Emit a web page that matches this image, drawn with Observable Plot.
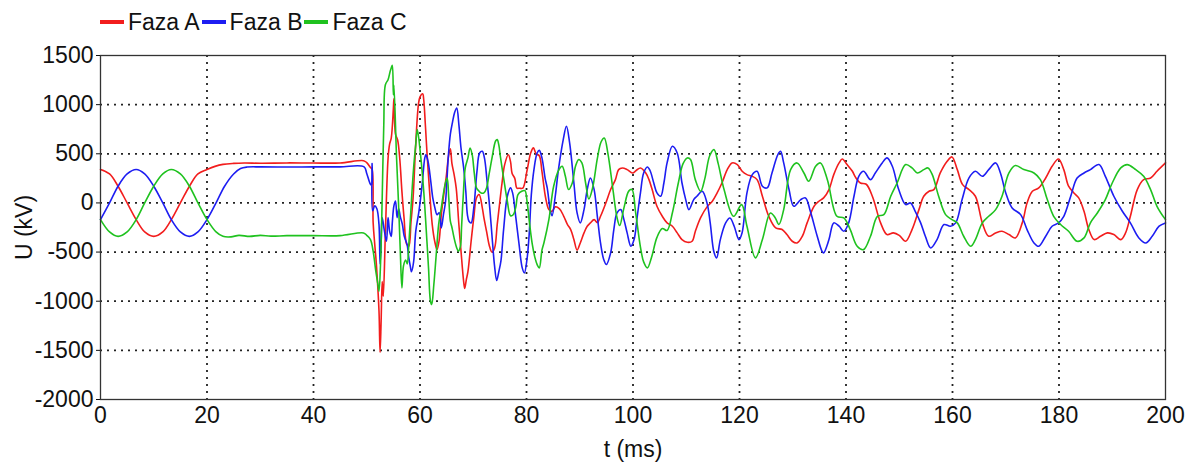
<!DOCTYPE html>
<html><head><meta charset="utf-8">
<script src="https://cdn.jsdelivr.net/npm/d3@7"></script>
<script src="https://cdn.jsdelivr.net/npm/@observablehq/plot@0.6"></script>
<style>
body{margin:0;background:#fff;font-family:"Liberation Sans",Arial,sans-serif;}
#legend{height:20px;padding-top:12px;display:flex;align-items:center;padding-left:100px;font-size:23px;line-height:20px;color:#111;}
.item{display:flex;align-items:center;margin-right:2px;}
.sw{width:24px;height:4px;margin-right:4px;}
#chart svg{display:block;overflow:visible;}
</style></head><body>
<div id="legend"></div>
<div id="chart"></div>
<script>
const seriesNames = ["Faza A", "Faza B", "Faza C"];
const seriesColors = ["#f21d1d", "#1d1df2", "#1fc21f"];
const xTicks = [0, 20, 40, 60, 80, 100, 120, 140, 160, 180, 200];
const yTicks = [-2000, -1500, -1000, -500, 0, 500, 1000, 1500];

// [t (ms), U (kV)]
const fazaA = [[0,340],[1.7,295],[3.3,170],[5,0],[6.7,-170],[8.3,-295],[10,-340],[11.7,-295],[13.3,-170],[15,0],[16.7,170],[18.3,295],[20,340],[21.5,372],[23,392],[25,402],[27,406],[30,404],[35,407],[40,406],[45,407],[49.4,430],[50.0,410],[50.7,360],[51.0,340],[51.2,-200],[51.5,-420],[51.8,-620],[52.3,-1100],[52.5,-1520],[52.7,-1200],[52.9,-800],[53.1,-950],[53.5,-300],[54.0,450],[54.3,600],[54.6,660],[55.0,960],[55.1,1060],[55.4,700],[55.8,640],[56.2,450],[56.6,120],[57.0,-150],[57.5,-420],[57.9,-440],[58.3,-200],[58.7,50],[59.2,600],[59.7,1000],[60.0,1080],[60.5,1110],[60.7,1050],[61.0,800],[61.3,520],[61.8,120],[62.3,-220],[62.8,-400],[63.2,-475],[63.6,-380],[64.0,-120],[64.5,100],[64.9,254],[65.4,490],[65.7,550],[66.0,400],[66.4,290],[66.8,150],[67.3,-220],[67.7,-490],[68.2,-800],[68.4,-870],[68.7,-780],[69.0,-700],[69.6,-390],[70.1,-150],[70.6,50],[71.1,85],[71.7,-50],[72.0,-150],[72.5,-290],[73.0,-430],[73.5,-500],[74.0,-460],[74.5,-220],[75.0,17],[75.4,200],[75.9,390],[76.6,490],[77.0,420],[77.3,300],[77.8,250],[78.2,150],[78.7,150],[79.3,150],[80.1,330],[80.8,510],[81.3,560],[81.8,500],[82.4,480],[82.9,320],[83.6,50],[84.2,-68],[84.8,-85],[85.4,-40],[86.2,-60],[87.0,-136],[87.7,-220],[88.3,-271],[88.9,-373],[89.5,-480],[90.1,-407],[90.8,-305],[91.4,-237],[92.0,-203],[92.7,-170],[93.3,-200],[93.9,-136],[94.9,0],[95.8,136],[96.7,237],[97.3,339],[98.0,356],[98.9,339],[99.9,305],[100.6,330],[101.4,356],[102.4,305],[103.0,237],[103.6,136],[104.5,-34],[105.5,-136],[106.4,-203],[107.4,-237],[108.3,-305],[109.2,-373],[110.2,-400],[111.1,-390],[111.7,-290],[112.7,-150],[113.9,-40],[114.9,17],[115.8,102],[116.7,203],[117.7,339],[118.6,407],[119.6,390],[120.5,322],[121.4,288],[122.4,271],[123.3,237],[124.3,68],[125.5,-136],[126.8,-254],[128.0,-271],[128.9,-322],[129.9,-390],[130.8,-407],[131.8,-339],[132.7,-203],[134.0,-34],[134.9,17],[135.8,51],[136.8,136],[137.7,288],[138.7,407],[139.3,447],[140.2,390],[141.2,322],[141.8,260],[142.7,203],[143.8,190],[145.0,60],[146.5,-203],[147.7,-322],[148.9,-305],[150.0,-330],[151.2,-390],[152.4,-271],[153.7,-68],[154.6,68],[155.6,119],[156.5,136],[157.7,305],[159.0,424],[159.9,468],[160.9,339],[161.9,186],[163.1,136],[164.3,68],[165.6,-203],[166.8,-339],[168.1,-305],[169.3,-288],[170.6,-322],[171.8,-356],[173.1,-203],[174.0,0],[175.0,119],[176.2,153],[177.5,254],[178.7,373],[179.9,447],[180.9,339],[181.8,170],[182.8,102],[183.7,51],[184.7,-85],[185.6,-271],[186.6,-373],[187.8,-339],[189.1,-305],[190.3,-322],[191.6,-373],[192.5,-305],[193.4,-136],[194.7,136],[195.9,237],[197.2,254],[198.4,322],[200,407]];

const fazaB = [[0,-170],[1.7,0],[3.3,170],[5,295],[6.7,340],[8.3,295],[10,170],[11.7,0],[13.3,-170],[15,-295],[16.7,-340],[18.3,-295],[20,-170],[21.7,0],[23.3,170],[25,295],[26.3,350],[27.5,365],[30,367],[35,365],[40,367],[45,367],[49.5,367],[50.0,300],[50.7,190],[50.95,180],[51.0,400],[51.1,-80],[51.5,-30],[51.9,-60],[52.3,-220],[52.5,-620],[52.7,-400],[52.9,-150],[53.3,-280],[53.7,-390],[54.0,-150],[54.3,-290],[54.6,-340],[54.8,-200],[55.1,-30],[55.4,20],[55.7,-150],[56.0,-60],[56.3,-140],[56.7,-220],[57.0,-330],[57.3,-380],[57.6,-430],[57.9,-560],[58.2,-650],[58.4,-700],[58.8,-600],[59.2,-290],[59.8,-85],[60.4,186],[60.9,458],[61.1,491],[61.5,424],[62.0,230],[62.4,51],[62.8,-50],[63.2,-119],[63.6,-100],[64.0,-254],[64.4,-120],[64.8,17],[65.3,458],[65.7,700],[66.1,820],[66.5,920],[66.9,966],[67.3,797],[67.7,559],[68.2,356],[68.6,119],[68.9,-119],[69.2,-186],[69.6,-203],[70.1,-51],[70.7,322],[71.2,508],[71.7,525],[72.1,458],[72.6,220],[73.1,-51],[73.6,-390],[74.0,-640],[74.4,-790],[74.8,-700],[75.2,-590],[75.7,-271],[76.4,68],[77.0,153],[77.4,100],[78.0,-150],[78.6,-420],[79.2,-661],[79.6,-712],[80.1,-570],[80.5,-322],[80.9,80],[81.4,340],[82.0,508],[82.4,535],[82.9,458],[83.5,250],[83.9,150],[84.5,-85],[84.8,-130],[85.4,68],[86.0,339],[86.9,644],[87.5,780],[88.1,610],[88.9,203],[89.5,-102],[90.1,-203],[90.8,-68],[91.4,136],[92.0,254],[92.7,136],[93.3,-136],[93.9,-407],[94.5,-576],[95.0,-627],[95.8,-508],[96.4,-271],[97.0,-102],[97.7,-68],[98.3,-170],[98.9,-305],[99.6,-441],[100.2,-373],[100.8,-136],[101.4,102],[102.0,305],[102.7,366],[103.2,330],[103.9,203],[104.5,102],[105.2,68],[105.8,203],[106.4,407],[107.4,576],[108.3,508],[109.2,203],[109.9,34],[110.5,-68],[111.4,34],[112.0,68],[113.0,119],[113.9,0],[114.5,-203],[115.2,-500],[115.7,-559],[116.4,-373],[117.4,-203],[118.2,-153],[119.0,-237],[119.9,-373],[120.5,-300],[121.4,102],[122.4,288],[123.3,322],[124.3,170],[125.2,153],[126.1,305],[127.2,492],[127.7,525],[128.3,407],[129.3,136],[130.2,-34],[131.5,34],[132.4,51],[133.3,-85],[134.6,-339],[135.5,-492],[135.8,-508],[136.8,-373],[137.7,-203],[138.7,-237],[139.6,-288],[140.5,-203],[141.5,68],[142.4,271],[143.3,322],[144.6,237],[145.5,305],[146.8,407],[147.7,458],[148.7,373],[149.9,136],[151.2,-17],[152.1,0],[153.0,-85],[154.0,-200],[154.9,-339],[155.9,-458],[157.1,-373],[158.4,-220],[159.6,-237],[160.6,-203],[161.8,34],[163.1,254],[164.3,322],[165.6,271],[166.8,339],[168.1,407],[169.0,305],[170.0,102],[171.2,-51],[172.8,-119],[174.0,-271],[175.3,-407],[176.2,-441],[177.5,-339],[178.7,-237],[179.9,-203],[180.9,-136],[182.2,68],[183.4,254],[184.7,305],[185.9,339],[187.5,390],[188.7,271],[190.3,68],[191.9,-85],[193.4,-203],[195.0,-356],[196.3,-407],[197.5,-339],[198.8,-237],[200,-203]];

const fazaC = [[0,-170],[1.7,-295],[3.3,-340],[5,-295],[6.7,-170],[8.3,0],[10,170],[11.7,295],[13.3,340],[15,295],[16.7,170],[18.3,0],[20,-170],[21.7,-295],[23,-340],[24.5,-345],[26,-330],[28,-340],[30,-330],[32,-338],[35,-333],[40,-333],[45,-333],[49.4,-305],[50.0,-330],[50.7,-373],[51.2,-491],[51.7,-695],[52.1,-830],[52.3,-898],[52.6,-600],[52.9,51],[53.2,797],[53.5,1203],[54.0,1254],[54.4,1340],[54.6,1373],[54.8,1400],[55.0,1100],[55.1,1200],[55.6,458],[56.0,-51],[56.3,-492],[56.6,-864],[56.9,-640],[57.3,-580],[57.6,-620],[57.9,-424],[58.5,119],[58.8,356],[59.2,593],[59.5,746],[60.1,491],[60.7,119],[61.3,-390],[61.6,-661],[61.97,-1000],[62.2,-1034],[62.6,-830],[63.0,-559],[63.5,-220],[64.0,-50],[64.7,186],[65.1,254],[65.4,51],[65.7,-186],[66.0,-250],[66.4,-356],[66.9,-458],[67.2,-492],[67.6,-440],[67.8,-250],[68.1,51],[68.5,356],[69.0,458],[69.4,559],[69.8,491],[70.2,300],[70.6,153],[71.1,119],[71.5,100],[72.0,102],[72.5,153],[73.0,300],[73.5,450],[74.2,630],[74.5,644],[74.8,590],[75.1,470],[75.7,254],[76.4,17],[77.0,-130],[77.5,-120],[78.0,-40],[78.4,85],[79.1,119],[79.7,125],[80.1,17],[80.6,-220],[81.1,-424],[81.6,-559],[82.0,-627],[82.4,-661],[82.9,-480],[83.3,-400],[84.2,-170],[85.1,170],[86.1,339],[86.7,373],[87.3,271],[87.9,136],[88.6,203],[89.2,373],[89.8,441],[90.4,407],[91.1,203],[91.7,40],[92.4,150],[93.3,450],[94.0,620],[94.6,661],[95.3,500],[96.2,150],[97.0,-150],[97.5,-230],[98.3,-50],[99.2,120],[99.8,136],[100.5,-100],[101.4,-450],[102.0,-600],[102.7,-661],[103.5,-550],[104.5,-350],[105.5,-260],[106.4,-280],[107.4,-100],[108.5,200],[109.4,400],[110.2,458],[110.8,441],[111.7,237],[112.7,119],[113.5,250],[114.4,480],[115.2,542],[116.0,400],[117.1,136],[118.9,-136],[120.4,-17],[121.4,-237],[123.0,-559],[124.3,-373],[125.8,-102],[126.7,-150],[127.4,-220],[128.3,-68],[129.6,339],[130.8,407],[132.1,305],[133.0,220],[134.3,373],[135.2,407],[136.5,237],[138.3,-136],[139.6,-153],[140.8,-271],[142.1,-441],[143.3,-475],[144.6,-339],[145.9,-136],[147.1,-119],[148.4,68],[149.6,203],[151.2,390],[152.4,356],[153.4,305],[154.6,339],[155.4,356],[156.2,288],[157.4,68],[158.7,-119],[159.9,-170],[160.9,-203],[162.1,-339],[163.4,-441],[164.3,-373],[165.6,-203],[166.8,-136],[168.1,-68],[169.3,68],[170.6,305],[171.8,380],[173.4,339],[175.3,305],[176.5,237],[177.8,34],[179.0,-136],[180.3,-220],[181.8,-288],[183.4,-390],[184.7,-356],[185.9,-203],[187.2,-102],[188.7,34],[190.0,203],[191.6,356],[192.8,390],[194.4,339],[195.9,271],[197.2,136],[198.4,-34],[200,-170]];

const allSeries = [fazaA, fazaB, fazaC];
const data = allSeries.flatMap((s, i) => s.map(([t, u]) => ({t, u, faza: seriesNames[i]})));

// legend
const legend = document.getElementById("legend");
seriesNames.forEach((n, i) => {
  const it = document.createElement("div"); it.className = "item";
  const sw = document.createElement("div"); sw.className = "sw"; sw.style.background = seriesColors[i];
  const tx = document.createElement("span"); tx.textContent = n;
  it.appendChild(sw); it.appendChild(tx); legend.appendChild(it);
});

const fmt = d => String(d);

const chart = Plot.plot({
  width: 1193,
  height: 435,
  marginLeft: 100,
  marginRight: 28,
  marginTop: 23,
  marginBottom: 68,
  style: {fontFamily: "'Liberation Sans', Arial, sans-serif", fontSize: "23px", color: "#111", background: "#fff"},
  x: {domain: [0, 200], ticks: xTicks, label: null},
  y: {domain: [-2000, 1500], ticks: yTicks, label: null},
  color: {domain: seriesNames, range: seriesColors},
  marks: [
    Plot.ruleX(xTicks.slice(1, -1), {stroke: "#222", strokeWidth: 1.8, strokeDasharray: "2,5"}),
    Plot.ruleY(yTicks.slice(1, -1), {stroke: "#222", strokeWidth: 1.8, strokeDasharray: "2,5"}),
    Plot.line(data, {x: "t", y: "u", z: "faza", stroke: "faza", strokeWidth: 1.6, curve: "catmull-rom"}),
    Plot.frame({stroke: "#333", strokeWidth: 1.3}),
    Plot.axisX({ticks: xTicks, tickFormat: fmt, tickSize: 0, tickPadding: 7, fontSize: 23, label: "t (ms)", labelAnchor: "center", labelArrow: "none", labelOffset: 57}),
    Plot.axisY({ticks: yTicks, tickFormat: fmt, tickSize: 4, tickPadding: 3, fontSize: 23, label: "U (kV)", labelAnchor: "center", labelArrow: "none", labelOffset: 85})
  ]
});
document.getElementById("chart").appendChild(chart);
</script></body></html>
